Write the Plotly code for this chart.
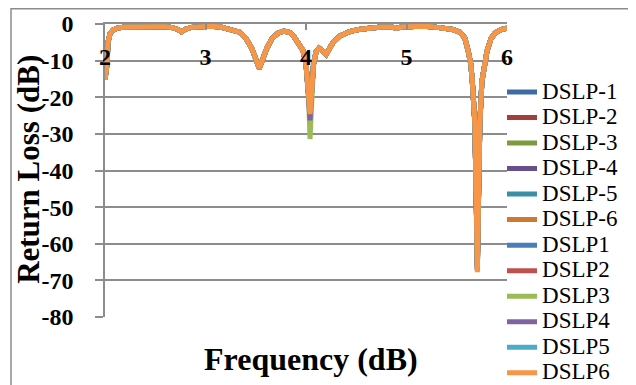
import plotly.graph_objects as go

# ---------------- data ----------------
series_names = ["DSLP-1", "DSLP-2", "DSLP-3", "DSLP-4", "DSLP-5", "DSLP-6",
                "DSLP1", "DSLP2", "DSLP3", "DSLP4", "DSLP5", "DSLP6"]

series_colors = ["#3E6BA3", "#A23E3B", "#7E9A3E", "#664F8A", "#3A8EA5", "#CC7A33",
                 "#4A7EBB", "#C0504D", "#9BBB59", "#8064A2", "#4BACC6", "#F79646"]

# frequency samples (x-axis values)
freq = [2.00, 2.02, 2.03, 2.05, 2.08, 2.12, 2.20, 2.30, 2.40, 2.50,
        2.60, 2.66, 2.72, 2.76, 2.80, 2.86, 2.95, 3.05, 3.15, 3.24,
        3.34, 3.40, 3.46, 3.50, 3.535, 3.57, 3.61, 3.66, 3.72, 3.78,
        3.84, 3.88, 3.93, 3.97, 4.00, 4.025, 4.04, 4.055, 4.075, 4.10,
        4.13, 4.16, 4.20, 4.23, 4.27, 4.34, 4.44, 4.54, 4.65, 4.75,
        4.85, 4.90, 4.95, 5.05, 5.15, 5.25, 5.33, 5.40, 5.46, 5.53,
        5.58, 5.615, 5.64, 5.655, 5.68, 5.695, 5.705, 5.715, 5.73, 5.75,
        5.775, 5.80, 5.84, 5.88, 5.94, 6.00]

# return loss shared by all curves (they overlap almost everywhere);
# None marks the two resonance minima, which differ per series
rl_shared = [-15.2, -11.0, -5.0, -2.6, -1.6, -1.1, -0.8, -0.7, -0.6, -0.6,
             -0.7, -0.9, -1.4, -2.1, -1.4, -0.9, -0.7, -0.6, -0.8, -1.3,
             -2.2, -3.8, -6.6, -9.5, -12.1, -9.6, -6.6, -4.0, -2.5, -1.9,
             -2.3, -3.4, -5.2, -7.2, -11.0, -19.0, None, -19.0, -11.0, -7.6,
             -6.6, -7.2, -8.3, -6.8, -5.0, -3.2, -2.0, -1.4, -1.0, -0.8,
             -0.8, -1.1, -0.8, -0.6, -0.6, -0.7, -0.9, -1.1, -1.5, -2.2,
             -3.8, -7.5, -11.0, -15.7, -27.0, -50.0, None, -50.0, -27.0, -15.7,
             -10.5, -7.5, -4.0, -2.5, -1.5, -1.1]

# depth of the minimum near 4.04 for each series (same order as series_names)
dip_4_04 = [-24.0, -23.8, -24.2, -24.1, -23.9, -24.3,
            -24.0, -24.2, -31.4, -26.3, -24.1, -24.6]
# depth of the minimum near 5.705 for each series
dip_5_705 = [-66.0, -65.5, -66.5, -67.0, -65.8, -66.8,
             -67.2, -66.2, -66.9, -67.4, -66.4, -67.8]

y_tick_vals = [0, -10, -20, -30, -40, -50, -60, -70, -80]
y_tick_labels = ["0", "-10", "-20", "-30", "-40", "-50", "-60", "-70", "-80"]
x_tick_vals = [2, 3, 4, 5, 6]
x_tick_labels = ["2", "3", "4", "5", "6"]

# ---------------- figure ----------------
SERIF = "Liberation Serif"
GRID = "#8C8C8C"

fig = go.Figure()
for i, name in enumerate(series_names):
    dips = iter([dip_4_04[i], dip_5_705[i]])
    yvals = [v if v is not None else next(dips) for v in rl_shared]
    fig.add_trace(go.Scatter(
        x=freq, y=yvals, mode="lines",
        name=f'<span style="font-size:23px">{name}</span>',
        line=dict(color=series_colors[i], width=5),
        legend="legend" if i < 6 else "legend2",
        hoverinfo="skip",
    ))

legend_common = dict(
    font=dict(family=SERIF, size=17.3, color="black"),
    bgcolor="rgba(0,0,0,0)", borderwidth=0,
    itemwidth=30, xanchor="left", yanchor="top", traceorder="normal",
)

fig.update_layout(
    width=628, height=377,
    margin=dict(l=97, r=129, t=16, b=68, autoexpand=False),
    paper_bgcolor="white", plot_bgcolor="white",
    showlegend=True,
    legend=dict(x=0.9876, y=0.8285, **legend_common),
    legend2=dict(x=0.9876, y=0.3055, **legend_common),
    xaxis=dict(
        range=[2, 6], side="top",
        tickvals=x_tick_vals, ticktext=x_tick_labels,
        ticks="inside", ticklen=6, tickcolor=GRID, tickwidth=1.5,
        ticklabelposition="inside", ticklabeloverflow="allow",
        ticklabelstandoff=20,
        tickfont=dict(family=SERIF, size=24, color="black", weight="bold"),
        showline=True, linecolor=GRID, linewidth=1.5,
        showgrid=False, zeroline=False,
    ),
    yaxis=dict(
        range=[-80.02, 0.02],
        tickvals=y_tick_vals, ticktext=y_tick_labels,
        ticks="outside", ticklen=8, tickcolor=GRID, tickwidth=1.5,
        ticklabelstandoff=17,
        tickfont=dict(family=SERIF, size=24, color="black", weight="bold"),
        showline=True, linecolor=GRID, linewidth=1.5,
        showgrid=True, gridcolor=GRID, gridwidth=1.5, zeroline=False,
    ),
    annotations=[
        dict(text="<b>Return Loss (dB)</b>", textangle=-90, showarrow=False,
             xref="paper", yref="paper", x=-0.192, y=0.505,
             xanchor="center", yanchor="middle",
             font=dict(family=SERIF, size=31, color="black")),
        dict(text="<b>Frequency (dB)</b>", showarrow=False,
             xref="paper", yref="paper", x=0.512, y=-0.145,
             xanchor="center", yanchor="middle",
             font=dict(family=SERIF, size=32, color="black")),
    ],
    shapes=[
        dict(type="rect", xref="paper", yref="paper", layer="below",
             x0=-0.2338, x1=1.34, y0=-0.30, y1=1.052,
             line=dict(color=GRID, width=1.5), fillcolor="rgba(0,0,0,0)"),
    ],
)

fig.write_html("out.html")
